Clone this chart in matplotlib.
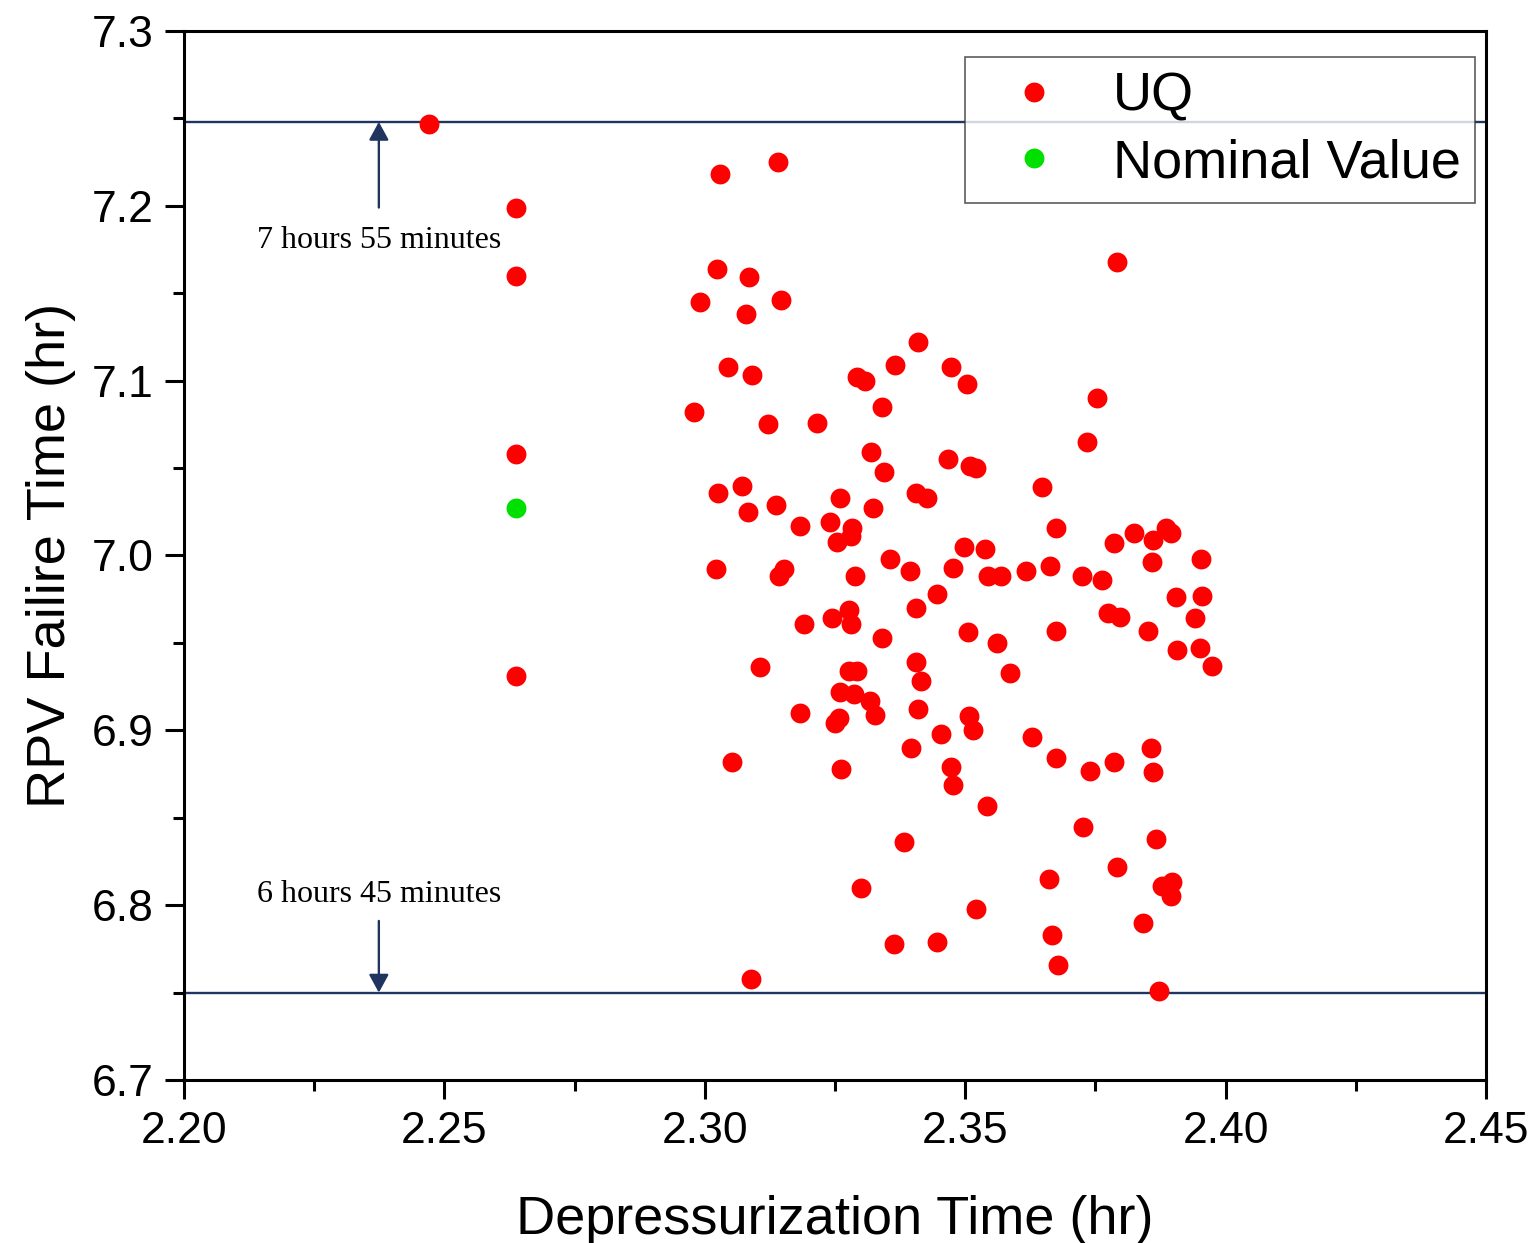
import matplotlib
matplotlib.use('Agg')
import matplotlib.pyplot as plt
from matplotlib.ticker import MultipleLocator

plt.rcParams['font.family'] = ['Liberation Sans', 'DejaVu Sans']

# Данные: неопределённость (UQ)
uq_x = [2.2470, 2.2637, 2.2637, 2.2637, 2.2637,
        2.3141, 2.3029, 2.3023, 2.3085, 2.2991, 2.3146, 2.3079, 2.3045, 2.3091,
        2.2979, 2.3121, 2.3215, 2.3025, 2.3071, 2.3083, 2.3137, 2.3021, 2.3152,
        2.3142, 2.3183, 2.3190, 2.3106, 2.3183, 2.3052, 2.3089,
        2.3292, 2.3308, 2.3365, 2.3409, 2.3473, 2.3503, 2.3340, 2.3319, 2.3467,
        2.3509, 2.3520, 2.3344, 2.3260, 2.3323, 2.3405, 2.3427, 2.3240, 2.3283,
        2.3281, 2.3254, 2.3498, 2.3288, 2.3356, 2.3394, 2.3477, 2.3446, 2.3405,
        2.3277, 2.3281, 2.3244, 2.3340, 2.3505, 2.3277, 2.3292, 2.3405, 2.3415,
        2.3260, 2.3286, 2.3317, 2.3327, 2.3409, 2.3258, 2.3250, 2.3507, 2.3515,
        2.3453, 2.3396, 2.3262, 2.3473, 2.3477, 2.3542, 2.3382, 2.3300, 2.3363,
        2.3446, 2.3520,
        2.3753, 2.3734, 2.3791, 2.3648, 2.3674, 2.3824, 2.3886, 2.3895, 2.3861,
        2.3786, 2.3538, 2.3544, 2.3569, 2.3617, 2.3663, 2.3724, 2.3763, 2.3859,
        2.3953, 2.3955, 2.3905, 2.3774, 2.3797, 2.3941, 2.3851, 2.3674, 2.3561,
        2.3951, 2.3907, 2.3586, 2.3974, 2.3628, 2.3674, 2.3740, 2.3786, 2.3857,
        2.3861, 2.3726, 2.3866, 2.3791, 2.3661, 2.3878, 2.3897, 2.3895, 2.3841,
        2.3667, 2.3678, 2.3872]
uq_y = [7.247, 7.199, 7.160, 7.058, 6.931,
        7.225, 7.218, 7.164, 7.159, 7.145, 7.146, 7.138, 7.108, 7.103,
        7.082, 7.075, 7.076, 7.036, 7.040, 7.025, 7.029, 6.992, 6.992,
        6.988, 7.017, 6.961, 6.936, 6.910, 6.882, 6.758,
        7.102, 7.100, 7.109, 7.122, 7.108, 7.098, 7.085, 7.059, 7.055,
        7.051, 7.050, 7.048, 7.033, 7.027, 7.036, 7.033, 7.019, 7.016,
        7.011, 7.008, 7.005, 6.988, 6.998, 6.991, 6.993, 6.978, 6.970,
        6.969, 6.961, 6.964, 6.953, 6.956, 6.934, 6.934, 6.939, 6.928,
        6.922, 6.921, 6.917, 6.909, 6.912, 6.907, 6.904, 6.908, 6.900,
        6.898, 6.890, 6.878, 6.879, 6.869, 6.857, 6.836, 6.810, 6.778,
        6.779, 6.798,
        7.090, 7.065, 7.168, 7.039, 7.016, 7.013, 7.016, 7.013, 7.009,
        7.007, 7.004, 6.988, 6.988, 6.991, 6.994, 6.988, 6.986, 6.996,
        6.998, 6.977, 6.976, 6.967, 6.965, 6.964, 6.957, 6.957, 6.950,
        6.947, 6.946, 6.933, 6.937, 6.896, 6.884, 6.877, 6.882, 6.890,
        6.876, 6.845, 6.838, 6.822, 6.815, 6.811, 6.813, 6.805, 6.790,
        6.783, 6.766, 6.751]

# Номинальное значение
nominal_x = [2.2637]
nominal_y = [7.027]

# Границы (часы)
upper_limit = 7.248
lower_limit = 6.750
upper_text = '7 hours 55 minutes'
lower_text = '6 hours 45 minutes'

navy = '#1f3560'

fig = plt.figure(figsize=(15.39, 12.43), dpi=100)
ax = fig.add_axes([0.1196, 0.1311, 0.8460, 0.8440])

ax.axhline(upper_limit, color=navy, lw=1.7, zorder=1)
ax.axhline(lower_limit, color=navy, lw=1.7, zorder=1)

ax.plot(uq_x, uq_y, 'o', color='#ff0000', markersize=14.3, markeredgewidth=0,
        label='UQ', zorder=3)
ax.plot(nominal_x, nominal_y, 'o', color='#00e000', markersize=14.3,
        markeredgewidth=0, label='Nominal Value', zorder=3)

# Стрелки с подписями
arrow_style = '-|>,head_length=1.1,head_width=0.6'
ax.annotate('', xy=(2.2374, upper_limit), xytext=(2.2374, 7.199),
            arrowprops=dict(arrowstyle=arrow_style, color=navy, lw=1.7,
                            shrinkA=0, shrinkB=0))
ax.annotate('', xy=(2.2374, lower_limit), xytext=(2.2374, 6.791),
            arrowprops=dict(arrowstyle=arrow_style, color=navy, lw=1.7,
                            shrinkA=0, shrinkB=0))
ax.text(2.2374, 7.180, upper_text, ha='center', va='center', fontsize=23,
        family=['Liberation Serif', 'DejaVu Serif'])
ax.text(2.2374, 6.806, lower_text, ha='center', va='center', fontsize=23,
        family=['Liberation Serif', 'DejaVu Serif'])

ax.set_xlim(2.20, 2.45)
ax.set_ylim(6.7, 7.3)
ax.xaxis.set_major_locator(MultipleLocator(0.05))
ax.xaxis.set_minor_locator(MultipleLocator(0.025))
ax.yaxis.set_major_locator(MultipleLocator(0.1))
ax.yaxis.set_minor_locator(MultipleLocator(0.05))
ax.xaxis.set_major_formatter(plt.FormatStrFormatter('%.2f'))
ax.yaxis.set_major_formatter(plt.FormatStrFormatter('%.1f'))

ax.tick_params(which='major', direction='out', length=14, width=2.2,
               labelsize=32, pad=8)
ax.tick_params(which='minor', direction='out', length=8, width=2.2)
for sp in ax.spines.values():
    sp.set_linewidth(2.2)

ax.set_xlabel('Depressurization Time (hr)', fontsize=39, labelpad=31)
ax.set_ylabel('RPV Failire Time (hr)', fontsize=39, labelpad=11)

leg = ax.legend(loc='upper right', bbox_to_anchor=(0.9916, 0.9752),
                borderaxespad=0, fontsize=39, frameon=True, fancybox=False,
                edgecolor='#333333', handletextpad=0.45, borderpad=0.27,
                labelspacing=0.31, handlelength=2.0, markerscale=1.0)
leg.get_frame().set_linewidth(1.2)

fig.savefig('out.png', dpi=100)
